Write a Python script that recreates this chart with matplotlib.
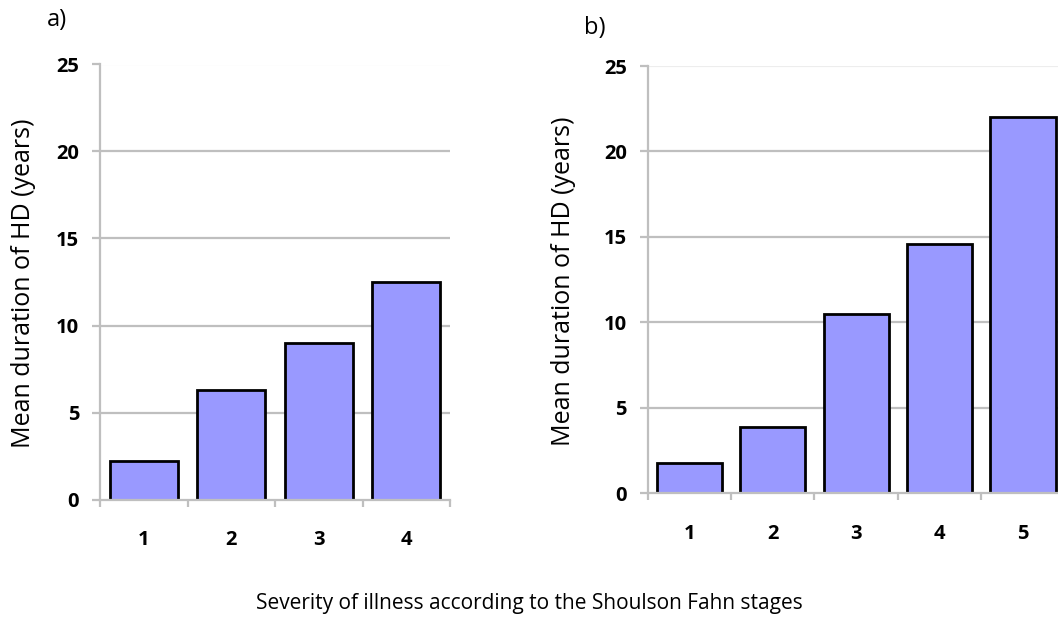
import matplotlib
matplotlib.use("Agg")
import matplotlib.pyplot as plt

# Mean duration of Huntington's disease by Shoulson-Fahn stage
stages_a = ["1", "2", "3", "4"]
duration_a = [2.2, 6.3, 9.0, 12.5]

stages_b = ["1", "2", "3", "4", "5"]
duration_b = [1.8, 3.9, 10.5, 14.6, 22.0]

y_ticks = [0, 5, 10, 15, 20, 25]

plt.rcParams["font.family"] = ["Open Sans", "DejaVu Sans"]

W, H = 1058, 623
fig = plt.figure(figsize=(W / 100, H / 100), dpi=100)

BAR_COLOR = "#9999FF"
GRID_COLOR = "#BFBFBF"
TOP_GRID = "#EDEDED"
TICK_FS = 14.5


def px_axes(left, top, right, bottom):
    return fig.add_axes([left / W, 1 - bottom / H, (right - left) / W, (bottom - top) / H])


def draw_panel(ax, stages, values):
    n = len(stages)
    x = list(range(n))
    ax.set_xlim(-0.5, n - 0.5)
    ax.set_ylim(0, 25)
    ax.set_axisbelow(True)
    for v in y_ticks[1:]:
        ax.axhline(v, color=TOP_GRID if v == 25 else GRID_COLOR, lw=1.6, zorder=0)
    ax.bar(x, values, width=0.78, color=BAR_COLOR, edgecolor="black", linewidth=2.0, zorder=2)
    for s in ("top", "right"):
        ax.spines[s].set_visible(False)
    for s in ("left", "bottom"):
        ax.spines[s].set_color(GRID_COLOR)
        ax.spines[s].set_linewidth(1.6)
    ax.set_yticks(y_ticks)
    ax.set_yticklabels([str(v) for v in y_ticks], fontsize=TICK_FS, fontweight="bold")
    # category boundaries carry the tick marks, labels sit at the bar centres
    ax.set_xticks([i - 0.5 for i in range(n + 1)])
    ax.set_xticklabels([""] * (n + 1))
    ax.set_xticks(x, minor=True)
    ax.set_xticklabels(stages, minor=True, fontsize=TICK_FS, fontweight="bold")
    ax.tick_params(axis="x", which="minor", length=0, pad=22)
    ax.tick_params(axis="x", which="major", length=5, width=1.6, color=GRID_COLOR)
    ax.tick_params(axis="y", length=6, width=1.6, color=GRID_COLOR, pad=9)
    ax.patch.set_alpha(0)


ax_a = px_axes(100, 64.5, 450, 499.5)
draw_panel(ax_a, stages_a, duration_a)

ax_b = px_axes(647.7, 66, 1064.7, 493.3)
draw_panel(ax_b, stages_b, duration_b)

ylabel = "Mean duration of HD (years)"
fig.text(24 / W, 1 - 283 / H, ylabel, fontsize=18, rotation=90, ha="center", va="center")
fig.text(563.5 / W, 1 - 281 / H, ylabel, fontsize=18, rotation=90, ha="center", va="center")

fig.text(57 / W, 1 - 20 / H, "a)", fontsize=17, ha="center", va="center")
fig.text(595 / W, 1 - 28 / H, "b)", fontsize=17, ha="center", va="center")
fig.text(529 / W, 1 - 604 / H, "Severity of illness according to the Shoulson Fahn stages",
         fontsize=15, ha="center", va="center")

fig.savefig("out.png", dpi=100)
